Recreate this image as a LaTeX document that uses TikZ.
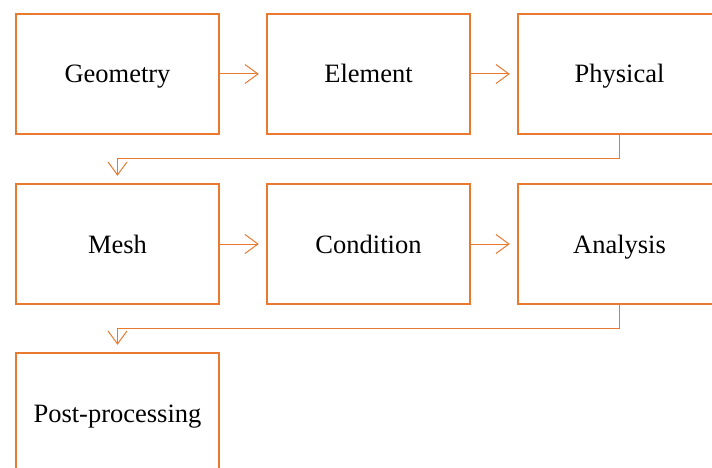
\documentclass[tikz,border=0pt]{standalone}
\usepackage{fontspec}
\setmainfont{Liberation Serif}
\usetikzlibrary{arrows.meta}
\definecolor{boxorange}{HTML}{E8792F}
\tikzset{
  stage/.style={draw=boxorange,line width=2.4pt,minimum width=203pt,minimum height=120pt,
    inner sep=0pt,text height=18pt,text depth=0pt,font=\fontsize{26.5}{30}\selectfont},
  flow/.style={draw=boxorange,line width=1pt,-{Straight Barb[length=13pt,width=19pt]},shorten >=7pt}
}
\begin{document}
\begin{tikzpicture}[x=1pt,y=-1pt]
\useasboundingbox (0,0) rectangle (712,468);
\clip (0,0) rectangle (712,468);
% hàng 1
\node[stage] (geo) at (117.5,74) {Geometry};
\node[stage] (elem) at (368.5,74) {Element};
\node[stage] (phys) at (619.5,74) {Physical};
% hàng 2
\node[stage] (mesh) at (117.5,244) {Mesh};
\node[stage] (cond) at (368.5,244) {Condition};
\node[stage] (anal) at (619.5,244) {Analysis};
% hàng 3
\node[stage] (post) at (117.5,413) {Post-processing};
\draw[flow] (geo) -- (elem);
\draw[flow] (elem) -- (phys);
\draw[flow] (phys.south) -- ++(0,23) -| (mesh.north);
\draw[flow] (mesh) -- (cond);
\draw[flow] (cond) -- (anal);
\draw[flow] (anal.south) -- ++(0,23) -| (post.north);
\end{tikzpicture}
\end{document}
